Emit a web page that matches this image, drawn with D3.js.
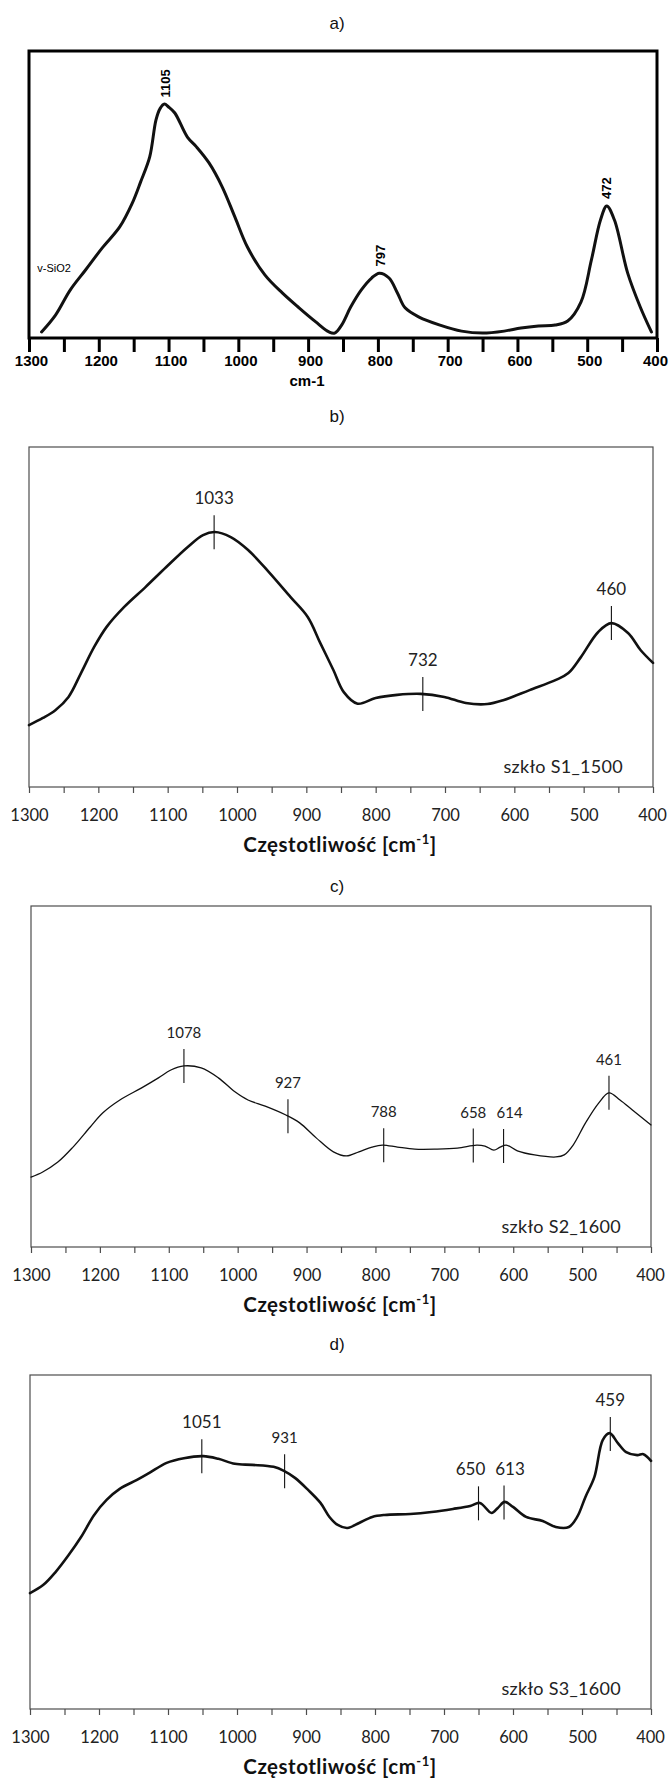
<!DOCTYPE html>
<html>
<head>
<meta charset="utf-8">
<script src="https://cdn.jsdelivr.net/npm/d3@7"></script>
<style>
  body { margin: 0; background: #fff; }
  svg { display: block; }
</style>
</head>
<body>
<svg id="chart" width="669" height="1780"></svg>
<script>
// wavenumber [cm-1] and relative intensity (0 = axis, 100 = top of frame)
const wnA  = [1282,1262,1241,1219,1195,1170,1152,1140,1127,1118,1112,1106,1100,1091,1073,1060,1042,1023,1005,987,962,937,913,889,870,862,852,839,824,809,798,784,772,761,741,711,680,650,619,595,570,546,528,509,494,481,472,461,442,424,408];
const intA = [2.1,8.0,16.7,23.7,31.4,38.7,47.0,54.4,63.1,76.0,80.0,81.5,80.5,78.4,70.0,66.6,61.0,52.6,42.2,31.7,22.0,15.7,10.5,5.6,2.1,1.7,4.5,10.8,16.7,20.9,22.6,20.9,15.7,10.5,7.3,4.5,2.4,1.7,2.4,3.5,4.2,4.5,5.9,12.5,27.2,41.1,46.0,41.1,22.6,10.8,2.1];

const wnB  = [1300,1280,1262,1243,1225,1206,1188,1163,1132,1102,1071,1049,1032,1009,984,954,923,898,880,861,846,826,800,769,735,701,670,639,615,578,540,522,504,479,460,436,418,400];
const intB = [18.2,20.3,22.6,26.5,33.5,41.2,47.1,52.9,58.8,64.7,70.6,74.1,75.0,73.5,69.7,63.2,55.9,50.0,42.4,34.4,27.9,24.5,26.2,27.1,27.4,26.5,24.7,24.4,25.6,28.5,31.5,33.5,38.2,45.6,48.2,45.3,40.3,36.5];

const wnC  = [1300,1283,1261,1239,1214,1196,1171,1140,1115,1097,1078,1053,1028,1004,985,960,930,910,886,861,842,824,805,790,768,743,712,681,653,641,628,619,610,594,569,538,526,513,495,476,461,445,427,400];
const intC = [20.5,22.0,24.9,29.3,35.2,39.3,43.1,46.6,49.6,51.9,53.1,52.5,49.6,45.5,43.1,41.3,38.7,36.4,32.0,27.9,26.7,27.9,29.3,29.9,29.3,28.7,28.7,29.0,29.9,29.6,28.4,29.3,29.9,28.2,27.0,26.4,27.0,29.9,36.4,42.2,45.2,43.1,40.2,35.8];

const wnD  = [1300,1281,1263,1244,1226,1207,1189,1170,1145,1127,1102,1077,1049,1027,1003,978,947,932,916,897,879,866,854,840,823,804,786,749,718,687,662,648,631,622,612,600,581,557,538,519,507,495,482,470,460,448,436,420,411,400];
const intD = [34.7,37.1,41.0,46.1,51.5,58.1,62.6,65.9,68.6,70.7,73.7,75.1,75.7,74.9,73.4,73.1,72.5,71.3,69.2,65.6,61.7,57.5,55.1,54.2,55.7,57.5,58.1,58.4,59.0,59.9,60.8,61.7,58.7,60.2,62.0,60.5,57.5,56.3,54.5,54.5,57.5,63.5,69.5,80.5,82.6,79.6,76.9,76.0,76.3,74.3];

// labelled band positions
const peaksA = [1105, 797, 472];
const peaksB = [1033, 732, 460];
const peaksC = [1078, 927, 788, 658, 614, 461];
const peaksD = [1051, 931, 650, 613, 459];

const panelLetters = ["a)", "b)", "c)", "d)"];
const sampleNames = ["", "szkło S1_1500", "szkło S2_1600", "szkło S3_1600"];
const xTickValues = d3.range(1300, 399, -50);

const svg = d3.select("#chart");
svg.append("rect").attr("width", 669).attr("height", 1780).attr("fill", "#fff");

// linear read-out of the series at a given wavenumber (for placing the band markers)
function valueAt(wn, vals, w) {
    for (let i = 0; i < wn.length - 1; i++) {
        if (w <= wn[i] && w >= wn[i + 1]) {
            const t = (wn[i] - w) / (wn[i] - wn[i + 1]);
            return vals[i] + t * (vals[i + 1] - vals[i]);
        }
    }
    return vals[vals.length - 1];
}

const panels = [
    { wn: wnA, val: intA, peaks: peaksA, left: 29, right: 657, top: 51, bottom: 338, letterY: 29, old: true, lw: 3 },
    { wn: wnB, val: intB, peaks: peaksB, left: 29, right: 653, top: 447, bottom: 787, letterY: 422, lw: 2.6, labelSize: 17 },
    { wn: wnC, val: intC, peaks: peaksC, left: 31, right: 651, top: 906, bottom: 1247, letterY: 892, lw: 1.3, labelSize: 15, nudge: { 614: 6 } },
    { wn: wnD, val: intD, peaks: peaksD, left: 30, right: 651, top: 1375, bottom: 1709, letterY: 1350, lw: 2.6, labelSize: 17, small: [931], nudge: { 650: -8, 613: 6 } }
];

panels.forEach((p, k) => {
    const g = svg.append("g");

    const x = d3.scaleLinear().domain([1300, 400]).range([p.left, p.right]);
    const y = d3.scaleLinear().domain([0, 100]).range([p.bottom, p.top]);

    // panel letter
    g.append("text")
        .attr("x", 337)
        .attr("y", p.letterY)
        .attr("text-anchor", "middle")
        .style("font-family", "'Liberation Sans', Arial, sans-serif")
        .style("font-size", "17px")
        .attr("fill", "#111")
        .text(panelLetters[k]);

    // x axis
    const axis = d3.axisBottom(x)
        .tickValues(xTickValues)
        .tickSize(p.old ? 14 : 6)
        .tickPadding(p.old ? 3 : 16)
        .tickFormat(d => d % 100 === 0 ? d : "");

    const ax = g.append("g")
        .attr("transform", `translate(0,${p.bottom})`)
        .call(axis);
    ax.select(".domain").remove();

    if (p.old) {
        ax.selectAll(".tick line").attr("stroke", "#000").attr("stroke-width", 3);
        ax.selectAll(".tick text")
            .attr("fill", "#000")
            .attr("dx", d => d === 400 ? -2 : 2)
            .style("font-family", "'Liberation Sans', Arial, sans-serif")
            .style("font-weight", "bold")
            .style("font-size", "15px");
    } else {
        ax.selectAll(".tick line").attr("stroke", "#4d4d4d").attr("stroke-width", 1.2);
        ax.selectAll(".tick text")
            .attr("fill", "#222")
            .attr("dx", d => d === 400 ? -1 : 0)
            .style("font-family", "Lato, 'Open Sans', sans-serif")
            .style("font-size", "16.5px");
    }

    // frame
    g.append("rect")
        .attr("x", p.left)
        .attr("y", p.top)
        .attr("width", p.right - p.left)
        .attr("height", p.bottom - p.top)
        .attr("fill", "none")
        .attr("stroke", p.old ? "#000" : "#4d4d4d")
        .attr("stroke-width", p.old ? 3 : 1.2);

    // spectrum
    const pts = p.wn.map((w, i) => [w, p.val[i]]);
    const line = d3.line()
        .x(d => x(d[0]))
        .y(d => y(d[1]))
        .curve(d3.curveCatmullRom.alpha(0.5));

    g.append("path")
        .datum(pts)
        .attr("fill", "none")
        .attr("stroke", "#111")
        .attr("stroke-width", p.lw)
        .attr("stroke-linejoin", "round")
        .attr("stroke-linecap", "round")
        .attr("d", line);

    if (p.old) {
        // rotated band labels sitting on the peaks
        p.peaks.forEach(w => {
            const px = x(w), py = y(valueAt(p.wn, p.val, w)) - 7;
            g.append("text")
                .attr("transform", `translate(${px},${py}) rotate(-90)`)
                .attr("dy", "0.35em")
                .style("font-family", "'Liberation Sans', Arial, sans-serif")
                .style("font-weight", "bold")
                .style("font-size", "13px")
                .attr("fill", "#000")
                .text(w);
        });

        g.append("text")
            .attr("x", x(1288))
            .attr("y", y(24.4))
            .attr("dy", "0.35em")
            .style("font-family", "'Liberation Sans', Arial, sans-serif")
            .style("font-size", "11px")
            .attr("fill", "#000")
            .text("v-SiO2");

        g.append("text")
            .attr("x", 307)
            .attr("y", 386)
            .attr("text-anchor", "middle")
            .style("font-family", "'Liberation Sans', Arial, sans-serif")
            .style("font-weight", "bold")
            .style("font-size", "15px")
            .attr("fill", "#000")
            .text("cm-1");
        return;
    }

    // band markers with labels
    p.peaks.forEach(w => {
        const px = x(w), cy = y(valueAt(p.wn, p.val, w));
        g.append("line")
            .attr("x1", px).attr("x2", px)
            .attr("y1", cy - 17).attr("y2", cy + 17)
            .attr("stroke", "#111")
            .attr("stroke-width", 1.1);
        const small = p.small && p.small.includes(w);
        g.append("text")
            .attr("x", px + ((p.nudge && p.nudge[w]) || 0))
            .attr("y", cy - 17 - 11)
            .attr("text-anchor", "middle")
            .style("font-family", "Lato, 'Open Sans', sans-serif")
            .style("font-size", (small ? 15 : p.labelSize) + "px")
            .attr("fill", "#222")
            .text(w);
    });

    // sample name
    g.append("text")
        .attr("x", p.right - 30)
        .attr("y", p.bottom - 14)
        .attr("text-anchor", "end")
        .style("font-family", "Lato, 'Open Sans', sans-serif")
        .style("font-size", "18px")
        .style("letter-spacing", "0.3px")
        .attr("fill", "#222")
        .text(sampleNames[k]);

    // axis title
    const t = g.append("text")
        .attr("x", 340)
        .attr("y", p.bottom + 65)
        .attr("text-anchor", "middle")
        .style("font-family", "Lato, 'Open Sans', sans-serif")
        .style("font-weight", "bold")
        .style("font-size", "20.5px")
        .style("letter-spacing", "0.5px")
        .attr("fill", "#111");
    t.append("tspan").text("Częstotliwość [cm");
    t.append("tspan").attr("dy", -8).style("font-size", "13px").text("-1");
    t.append("tspan").attr("dy", 8).text("]");
});
</script>
</body>
</html>
